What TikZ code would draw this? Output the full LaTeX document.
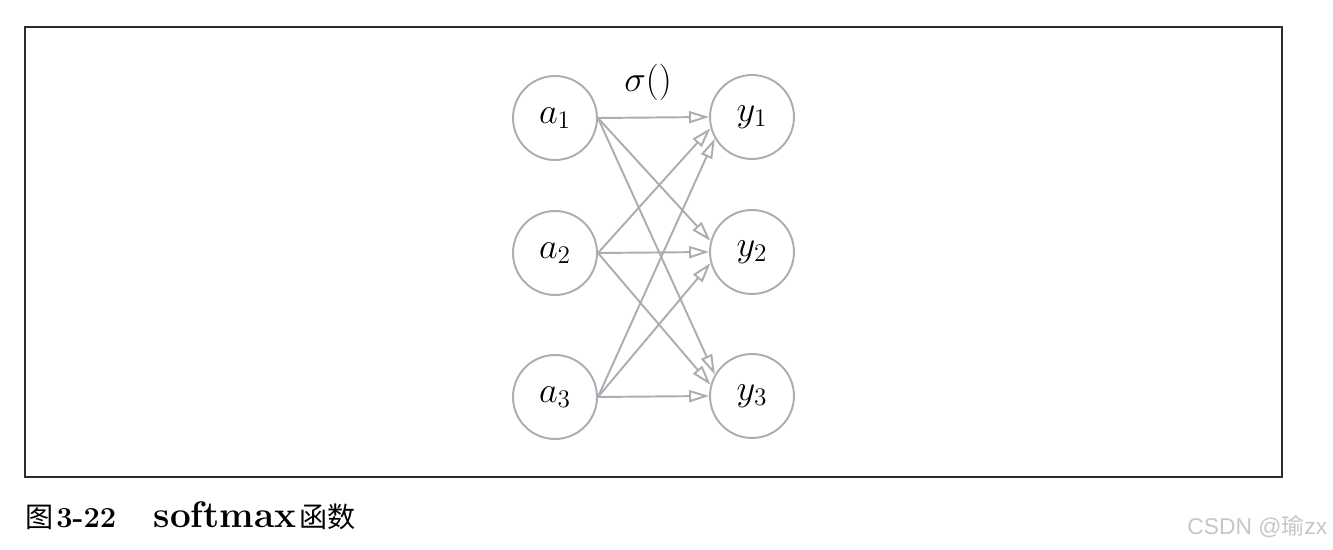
\documentclass[tikz,border=0pt]{standalone}
\usepackage{fontspec}
\newfontfamily\cjkfont{Noto Sans CJK SC}
\newfontfamily\marksans{Liberation Sans}
\usetikzlibrary{arrows.meta, positioning}
\definecolor{linkgray}{RGB}{172, 172, 178}
\definecolor{framedark}{RGB}{45, 45, 45}
\definecolor{markgray}{RGB}{198, 198, 198}
\tikzset{
    neuron/.style={circle, draw=linkgray, line width=1.1pt, minimum size=1.68cm, inner sep=0pt, font=\fontsize{20}{24}\selectfont},
    link/.style={draw=linkgray, line width=1.1pt, -{Triangle[open, length=0.4cm, width=0.24cm]}},
    caption/.style={anchor=base west, inner sep=0pt, font=\bfseries},
    watermark/.style={anchor=base west, inner sep=0pt, text=markgray, font=\marksans\fontsize{13}{15}\selectfont}
}

\begin{document}
\begin{tikzpicture}[x=0.02cm, y=-0.02cm]
    \useasboundingbox (0,0) rectangle (1333,550);
    \draw[framedark, line width=0.9pt] (25,27) rectangle (1282,477);

    % inputs and outputs
    \node (a1) [neuron] at (555,118) {$a_1$};
    \node (a2) [neuron] at (555,253) {$a_2$};
    \node (a3) [neuron] at (555,397) {$a_3$};
    \node (y1) [neuron] at (752,117) {$y_1$};
    \node (y2) [neuron] at (752,252) {$y_2$};
    \node (y3) [neuron] at (752,396) {$y_3$};
    \node (sigma) [font=\fontsize{20}{24}\selectfont] at (648,82) {$\sigma()$};

    \foreach \i in {1,2,3}
        \foreach \j in {1,2,3} {
            \pgfmathtruncatemacro{\ang}{180+15*(\i-\j)}
            \draw [link] (a\i.east) -- (y\j.\ang);
        }

    \node (cap) [caption] at (25,528) {{\cjkfont\mdseries\fontsize{16}{18}\selectfont 图}\,{\fontsize{16.5}{18}\selectfont 3-22}\hspace{0.75cm}{\fontsize{21}{24}\selectfont softmax}\,{\cjkfont\mdseries\fontsize{16}{18}\selectfont 函数}};
    \node (mark) [watermark] at (1187,535) {CSDN @{\cjkfont 瑜}zx};
\end{tikzpicture}
\end{document}
